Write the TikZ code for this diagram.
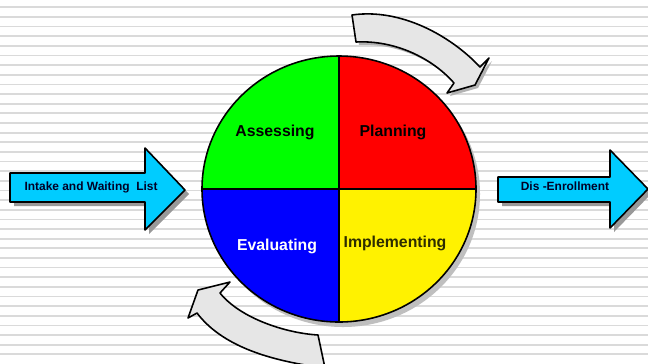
\documentclass[tikz,border=0pt]{standalone}
\usepackage{fontspec}
\setmainfont{Liberation Sans}

\definecolor{arrowcyan}{RGB}{0,204,255}
\definecolor{bandgray}{RGB}{230,230,230}
\definecolor{stripegray}{RGB}{218,218,218}
\definecolor{darkolive}{RGB}{45,45,0}

\tikzset{
  outline/.style={draw=black, line width=0.9pt, line join=round},
  shadow/.style={fill=black!40},
  quadlabel/.style={font=\fontsize{9}{10}\selectfont\bfseries},
  arrowlabel/.style={font=\fontsize{6.8}{8}\selectfont\bfseries, text=black!85!blue}
}

\begin{document}
\begin{tikzpicture}[x=0.02cm, y=-0.02cm]

    % Fix the page to the picture size
    \useasboundingbox (0,0) rectangle (648,363);

    % Striped background
    \fill[white] (0,0) rectangle (648,363);
    \foreach \k in {0,...,36} {
        \draw[stripegray, line width=1pt] (0,7.3+9.64*\k) -- (648,7.3+9.64*\k);
    }

    % Define the center of the circle
    \coordinate (O) at (339,189);

    % Shadow of the circle
    \fill[black!25] ([shift={(4,5)}]O) ellipse [x radius=137, y radius=133];

    % The four coloured quarters
    \begin{scope}
        \clip (O) ellipse [x radius=137, y radius=133];
        \fill[green]  (190,40) rectangle (O);
        \fill[red]    (490,40) rectangle (O);
        \fill[blue]   (190,340) rectangle (O);
        \fill[yellow] (490,340) rectangle (O);
    \end{scope}
    \draw[outline] (O) ellipse [x radius=137, y radius=133];
    \draw[outline] (339,56) -- (339,322);
    \draw[outline] (202,189) -- (476,189);

    % Labels of the quarters
    \node[quadlabel] (assess) at (275,132) {Assessing};
    \node[quadlabel] (plan) at (393,132) {Planning};
    \node[quadlabel, text=white] (eval) at (277,246) {Evaluating};
    \node[quadlabel, text=darkolive] (impl) at (395,243) {Implementing};

    % Curved arrow at the top
    \fill[black!30] [shift={(3,3)}] (352,15) .. controls (400,8) and (450,35) .. (480,67)
        -- (489,58) -- (475,85) -- (447,93) -- (454,83)
        .. controls (432,58) and (395,40) .. (356,42) -- cycle;
    \draw[outline, fill=bandgray] (352,15) .. controls (400,8) and (450,35) .. (480,67)
        -- (489,58) -- (475,85) -- (447,93) -- (454,83)
        .. controls (432,58) and (395,40) .. (356,42) -- cycle;

    % Curved arrow at the bottom
    \draw[outline, fill=bandgray] (318,335) .. controls (285,333) and (240,318) .. (220,293)
        -- (230,282) -- (198,290) -- (188,318) -- (197,313)
        .. controls (225,350) and (280,362) .. (325,368) -- cycle;

    % Left block arrow
    \fill[shadow] [shift={(4,4)}] (10,173) -- (145,173) -- (145,148) -- (185,190)
        -- (145,230) -- (145,202) -- (10,202) -- cycle;
    \draw[outline, fill=arrowcyan] (10,173) -- (145,173) -- (145,148) -- (185,190)
        -- (145,230) -- (145,202) -- (10,202) -- cycle;
    \node[arrowlabel] (intake) at (91,187) {Intake and Waiting\ \ List};

    % Right block arrow
    \fill[shadow] [shift={(4,4)}] (498,177) -- (610,177) -- (610,150) -- (648,189)
        -- (610,228) -- (610,202) -- (498,202) -- cycle;
    \draw[outline, fill=arrowcyan] (498,177) -- (610,177) -- (610,150) -- (648,189)
        -- (610,228) -- (610,202) -- (498,202) -- cycle;
    \node[arrowlabel] (disenroll) at (565,186) {Dis -Enrollment};

\end{tikzpicture}
\end{document}
